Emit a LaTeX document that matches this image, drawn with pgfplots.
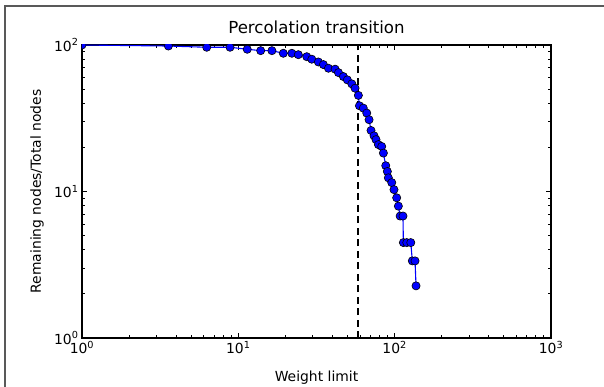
\documentclass[border=0pt]{standalone}
\usepackage{fontspec}
\setmainfont{DejaVu Sans}
\usepackage{pgfplots}
\pgfplotsset{compat=1.18}
\begin{document}
\begin{tikzpicture}[x=1pt,y=1pt]
\useasboundingbox (-82,-48) rectangle (522,338);
\draw[line width=2pt, black!65] (-77,-70) -- (-77,332) -- (560,332);
\begin{axis}[
  at={(0,0)}, anchor=south west,
  scale only axis, width=469pt, height=293pt,
  xmode=log, ymode=log,
  xmin=1, xmax=1000, ymin=1, ymax=100,
  xtick={1,10,100,1000},
  xticklabels={10\textsuperscript{0},10\textsuperscript{1},10\textsuperscript{2},10\textsuperscript{3}},
  ytick={1,10,100},
  yticklabels={10\textsuperscript{0},10\textsuperscript{1},10\textsuperscript{2}},
  tick label style={font=\fontsize{13.9}{16}\selectfont},
  major tick length=5.5pt, minor tick length=2.8pt,
  tick style={black, line width=0.9pt},
  axis line style={line width=1.2pt},
  title={Percolation transition},
  title style={at={(axis description cs:0.5,1.02)}, anchor=base, font=\fontsize{16.6}{19}\selectfont},
  xlabel={Weight limit},
  ylabel={Remaining nodes/Total nodes},
  every axis x label/.style={at={(axis description cs:0.5,-0.147)}, anchor=base, font=\fontsize{13.9}{16}\selectfont},
  every axis y label/.style={at={(axis description cs:-0.096,0.5)}, rotate=90, anchor=center, font=\fontsize{13.9}{16}\selectfont},
  clip=true, clip marker paths=true,
]
\addplot[black, line width=1.8pt, dash pattern=on 7pt off 4.5pt] coordinates {(58.6,1) (58.6,100)};
\addplot[blue, line width=1.1pt, mark=*, mark size=4.1pt, mark options={fill=blue, draw=black, line width=0.6pt, solid}] coordinates {
(1,100) (3.57,98.4) (6.28,96.5) (8.85,96.5) (11.4,93.5) (13.9,91.5) (16.4,91.5)
(19.4,87.8) (22,87.8) (24.2,85.9) (27.4,83.2) (29.5,80) (32.5,76.6) (35,73.5)
(37.7,69.4) (41.6,68.4) (43.7,64.8) (47,60.9) (49.8,57.8) (53.2,54.3) (55.8,50.7)
(58.6,45.3) (59.5,38.5) (63,37.1) (66.3,34.3) (68.6,30.9) (70.6,26.1) (73.8,24.0)
(76,22.6) (78.7,20.9) (82.6,20.3) (84.7,18.3) (87.7,15.0) (89.8,13.7) (91.1,12.4)
(95.8,11.5) (99,10.3) (103,9.06) (105.6,7.95) (108.4,6.8) (113,6.8) (113.7,4.48)
(119.5,4.48) (126.8,4.48) (129.7,3.36) (135,3.36) (137,2.27)
};
\end{axis}
\end{tikzpicture}
\end{document}
